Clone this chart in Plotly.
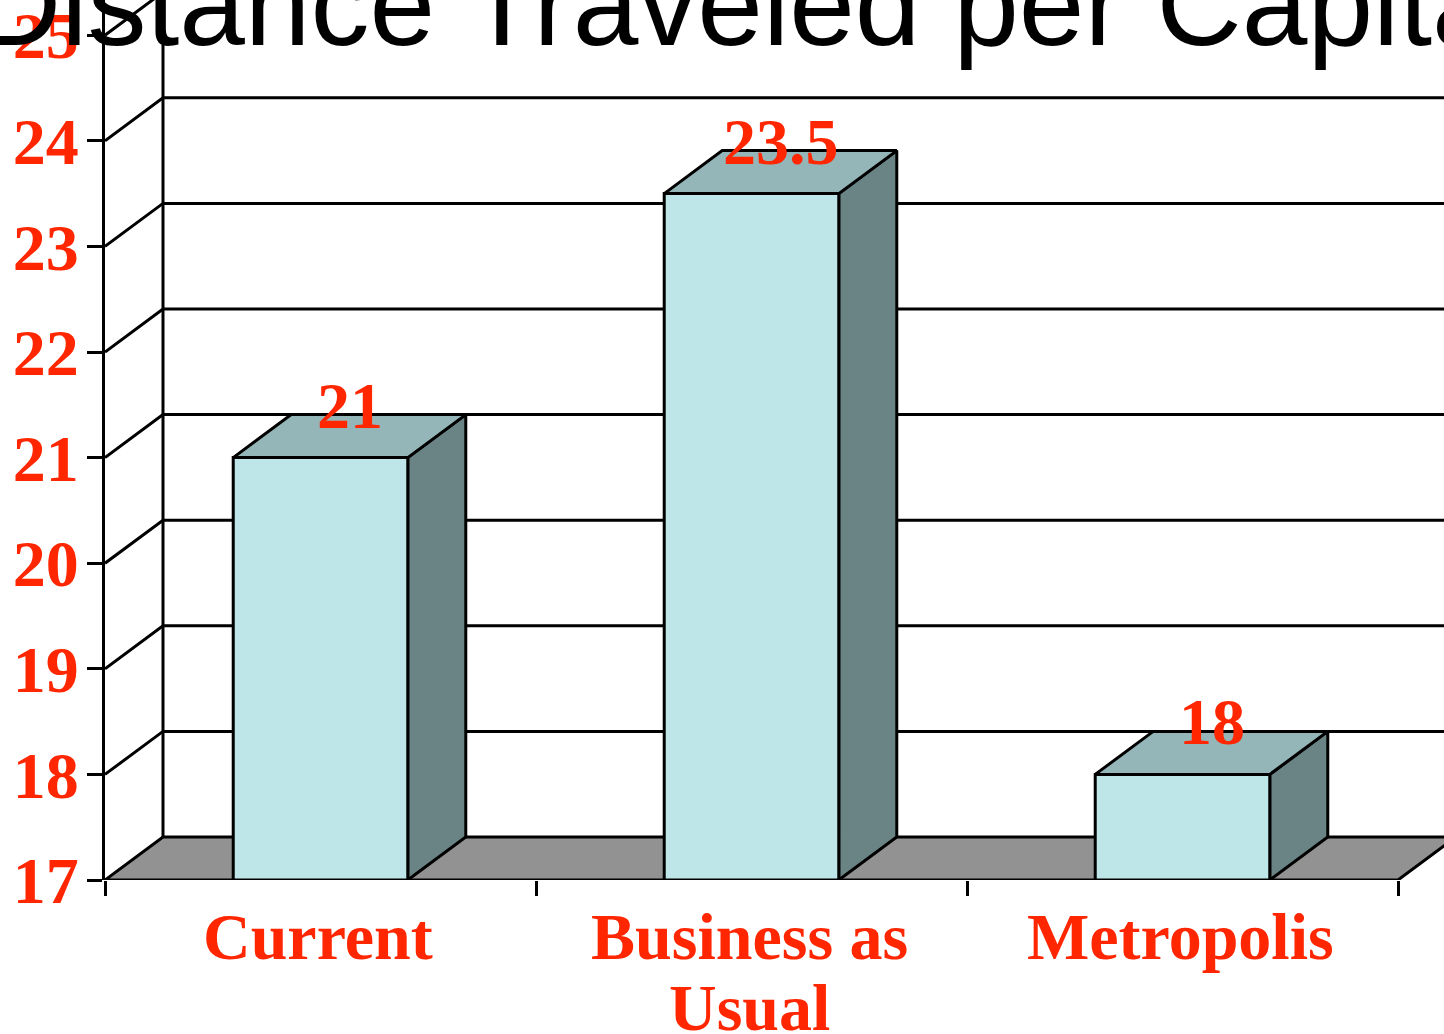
import plotly.graph_objects as go

# ---- data ----
categories = ["Current", "Business as<br>Usual", "Metropolis"]
values = [21, 23.5, 18]
value_labels = ["21", "23.5", "18"]
y_ticks = [17, 18, 19, 20, 21, 22, 23, 24, 25]
title_text = "Distance Traveled per Capita"

# ---- style / geometry ----
RED = "#FF2600"
FRONT = "#BEE6E8"
TOP = "#95B6B8"
SIDE = "#6A8385"
FLOOR = "#929292"
LW = 3
W, H = 1444, 1034
ML, MR, MT, MB = 105, 0, 0, 154
PX_X = 431.0      # pixels per category
PX_Y = 105.6      # pixels per unit
YBASE = 17
DX = 58 / PX_X    # depth offset in data units
DY = 43 / PX_Y
BW = 0.405        # bar width
FS = 66           # red label font size

pw = W - ML - MR
ph = H - MT - MB
xr = [-0.5, -0.5 + pw / PX_X]
yr = [YBASE, YBASE + ph / PX_Y]


def py2paper(py):
    return (H - MB - py) / ph


def px2paper(px):
    return (px - ML) / pw


fig = go.Figure()


def poly(xs, ys, fill, lw=LW):
    fig.add_trace(go.Scatter(
        x=xs + [xs[0]], y=ys + [ys[0]], mode="lines", fill="toself",
        fillcolor=fill, line=dict(color="black", width=lw),
        hoverinfo="skip", showlegend=False))


def line(xs, ys):
    fig.add_trace(go.Scatter(
        x=xs, y=ys, mode="lines", line=dict(color="black", width=LW),
        hoverinfo="skip", showlegend=False))


n = len(categories)
x0, x1 = -0.5, n - 0.5
top_val = y_ticks[-1] + 1

# floor
poly([x0, x1, x1 + DX, x0 + DX], [YBASE, YBASE, YBASE + DY, YBASE + DY], FLOOR)
# back wall left edge
line([x0 + DX, x0 + DX], [YBASE + DY, top_val + DY])
# side wall diagonals and back wall gridlines
gx, gy = [], []
for v in y_ticks[1:]:
    gx += [x0, x0 + DX, x1 + 1, None]
    gy += [v, v + DY, v + DY, None]
line(gx, gy)

# bars
for i, v in enumerate(values):
    l, r = i - BW / 2, i + BW / 2
    poly([r, r + DX, r + DX, r], [YBASE, YBASE + DY, v + DY, v], SIDE)
    poly([l, r, r + DX, l + DX], [v, v, v + DY, v + DY], TOP)
    poly([l, r, r, l], [YBASE, YBASE, v, v], FRONT)

annotations = []
# value labels
for i, (v, t) in enumerate(zip(values, value_labels)):
    annotations.append(dict(
        x=i + DX / 2, y=v + DY / 2, xref="x", yref="y", text=t,
        showarrow=False, xanchor="center", yanchor="middle", yshift=31,
        font=dict(family="Liberation Serif", size=FS, color=RED, weight="bold")))

# category labels
for i, c in enumerate(categories):
    for k, part in enumerate(c.split("<br>")):
        annotations.append(dict(
            x=i - 0.005, y=py2paper(937 + 70 * k), xref="x", yref="paper",
            text=part, showarrow=False, xanchor="center", yanchor="middle",
            font=dict(family="Liberation Serif", size=FS, color=RED, weight="bold")))

# title
annotations.append(dict(
    x=px2paper(-26), y=py2paper(45), xref="paper", yref="paper",
    text=title_text, showarrow=False, xanchor="left", yanchor="bottom",
    yshift=-27,
    font=dict(family="Liberation Sans", size=118, color="black")))

fig.update_layout(
    width=W, height=H,
    margin=dict(l=ML, r=MR, t=MT, b=MB, pad=0, autoexpand=False),
    paper_bgcolor="white", plot_bgcolor="white",
    showlegend=False,
    annotations=annotations,
    xaxis=dict(range=xr, showgrid=False, zeroline=False, showline=False,
               automargin=False,
               tickvals=list(range(n)), ticks="", showticklabels=False,
               minor=dict(tickvals=[x0 + k for k in range(n + 1)],
                          ticks="outside", ticklen=15, tickwidth=LW,
                          tickcolor="black", showgrid=False),
               fixedrange=True),
    yaxis=dict(range=yr, showgrid=False, zeroline=False, showline=True,
               automargin=False,
               linecolor="black", linewidth=LW,
               tickvals=y_ticks, ticktext=[str(t) for t in y_ticks],
               ticks="outside", ticklen=15, tickwidth=LW, tickcolor="black",
               ticklabelstandoff=-5, ticklabeloverflow="allow",
               tickfont=dict(family="Liberation Serif", size=FS, color=RED,
                             weight="bold"),
               fixedrange=True),
)

fig.write_html(
    "out.html",
    config={"displayModeBar": False},
    post_script="document.body.style.margin='0';document.body.style.overflow='hidden';",
)
